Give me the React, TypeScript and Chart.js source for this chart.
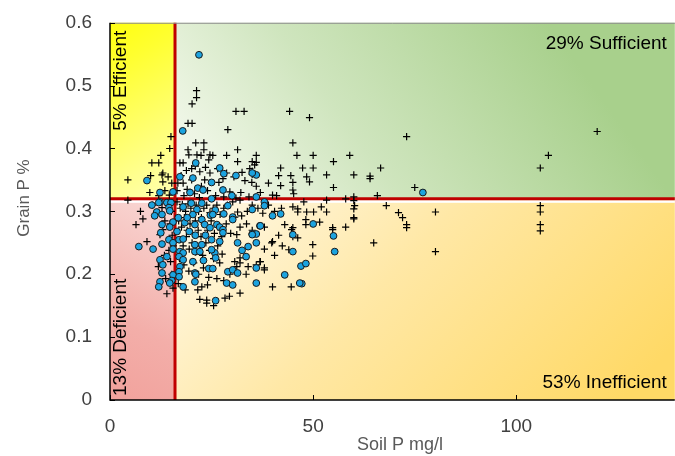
import React, { useEffect, useRef } from 'react';
import { Chart, registerables } from 'chart.js';

Chart.register(...registerables);

// ---- thresholds, axes, labels ----
const X_THRESHOLD = 16;
const Y_THRESHOLD = 0.32;
const xLimits = [0, 139];
const yLimits = [0, 0.6];
const xTickValues = [0, 50, 100];
const yTickValues = [0, 0.1, 0.2, 0.3, 0.4, 0.5, 0.6];
const xTitle = 'Soil P mg/l';
const yTitle = 'Grain P %';
const labelSufficient = '29% Sufficient';
const labelInefficient = '53% Inefficient';
const labelEfficient = '5% Efficient';
const labelDeficient = '13% Deficient';

// ---- series: [Soil P mg/l, Grain P %] ----
const otherSites: [number, number][] = [
  [21.3,0.492],[21.3,0.481],[20.2,0.471],[31.0,0.459],[33.0,0.459],[44.2,0.459],[49.1,0.449],[19.2,0.440],[20.2,0.440],[29.0,0.430],
  [15.0,0.419],[73.0,0.419],[21.1,0.409],[23.1,0.409],[45.0,0.409],[14.7,0.400],[19.2,0.398],[23.1,0.398],[31.4,0.398],[12.5,0.389],
  [19.4,0.390],[21.4,0.390],[22.4,0.389],[24.6,0.390],[25.3,0.389],[28.7,0.389],[36.0,0.389],[46.0,0.389],[50.0,0.389],[59.0,0.389],
  [107.9,0.389],[10.3,0.377],[12.0,0.377],[17.2,0.377],[18.0,0.377],[24.3,0.382],[31.4,0.379],[35.0,0.379],[36.0,0.378],[55.0,0.379],
  [35.6,0.374],[42.0,0.369],[47.4,0.369],[50.0,0.369],[66.6,0.369],[105.9,0.369],[119.9,0.427],[20.1,0.368],[34.4,0.368],[13.0,0.361],
  [12.8,0.358],[22.1,0.363],[24.6,0.361],[28.7,0.361],[35.0,0.364],[35.0,0.359],[10.0,0.357],[14.3,0.355],[53.3,0.358],[60.0,0.358],
  [64.0,0.356],[64.0,0.352],[48.4,0.355],[49.1,0.347],[4.4,0.350],[20.1,0.350],[23.3,0.350],[33.2,0.349],[13.0,0.347],[15.2,0.345],
  [16.7,0.345],[18.0,0.345],[26.8,0.346],[34.9,0.346],[45.0,0.346],[36.0,0.340],[42.0,0.341],[55.0,0.338],[75.0,0.338],[29.5,0.331],
  [32.2,0.330],[45.0,0.334],[45.2,0.328],[34.2,0.323],[40.0,0.326],[41.0,0.325],[58.0,0.320],[60.0,0.323],[65.8,0.325],[19.0,0.335],
  [20.8,0.328],[22.5,0.340],[24.0,0.333],[26.0,0.325],[17.5,0.357],[18.8,0.365],[21.0,0.372],[23.5,0.370],[26.5,0.368],[27.8,0.352],
  [30.5,0.355],[32.5,0.362],[16.5,0.333],[13.5,0.333],[9.8,0.330],[12.0,0.325],[14.6,0.326],[18.2,0.325],[22.0,0.322],[28.0,0.323],
  [31.0,0.321],[37.0,0.330],[39.0,0.345],[41.5,0.357],[44.5,0.357],
  [4.4,0.318],[6.4,0.279],[9.1,0.252],[8.1,0.288],[12.3,0.263],[13.0,0.271],[7.5,0.300],[10.5,0.310],[11.5,0.297],[12.8,0.306],
  [13.5,0.285],[14.2,0.312],[15.1,0.300],[14.8,0.280],[15.3,0.262],[15.6,0.245],[14.5,0.238],[13.4,0.230],[14.9,0.220],[11.9,0.212],
  [15.2,0.200],[13.7,0.193],[15.5,0.178],[14.0,0.169],
  [16.5,0.315],[17.3,0.305],[17.8,0.311],[18.6,0.300],[19.2,0.312],[19.9,0.305],[20.4,0.295],[21.2,0.310],[21.8,0.300],[22.5,0.290],
  [23.1,0.305],[23.8,0.310],[24.6,0.298],[25.4,0.305],[26.3,0.310],[27.1,0.295],[28.0,0.305],[28.9,0.310],[30.2,0.315],[31.4,0.299],
  [32.4,0.293],[30.7,0.291],[32.0,0.318],[33.8,0.300],[35.0,0.310],[36.4,0.305],[37.6,0.297],[39.0,0.310],[40.5,0.300],[42.2,0.305],
  [45.0,0.307],[46.2,0.304],[46.2,0.299],[48.4,0.299],[50.1,0.299],[52.0,0.307],[53.3,0.299],[47.7,0.315],[53.3,0.318],[60.0,0.317],
  [60.2,0.309],[60.0,0.304],[60.0,0.290],[60.0,0.288],[58.0,0.275],[54.8,0.274],[54.8,0.271],[48.2,0.287],[48.2,0.279],[51.6,0.283],
  [49.9,0.247],[49.9,0.229],[45.0,0.274],[45.0,0.260],[46.2,0.258],[43.0,0.279],[44.7,0.271],[39.8,0.250],[40.0,0.252],[44.0,0.239],
  [37.0,0.220],[36.0,0.215],[38.0,0.210],[64.9,0.250],[68.0,0.309],[71.0,0.298],[72.0,0.290],[73.0,0.279],[73.0,0.274],[80.1,0.299],
  [80.1,0.236],[105.9,0.309],[105.9,0.299],[105.9,0.279],[105.9,0.269],
  [16.9,0.285],[17.6,0.275],[18.3,0.290],[19.0,0.270],[19.7,0.280],[20.3,0.265],[21.0,0.285],[21.7,0.270],[22.4,0.260],[23.2,0.280],
  [24.0,0.270],[24.9,0.285],[25.7,0.265],[26.6,0.275],[27.5,0.260],[28.6,0.280],[29.7,0.265],[31.2,0.263],[32.0,0.275],[33.6,0.280],
  [35.0,0.270],[38.0,0.275],[41.5,0.262],
  [17.2,0.255],[18.0,0.245],[18.8,0.260],[19.5,0.240],[20.2,0.250],[21.1,0.235],[22.0,0.245],[22.8,0.230],[23.6,0.250],[24.5,0.238],
  [25.5,0.225],[26.5,0.245],[27.6,0.232],[27.0,0.218],[30.7,0.220],[32.0,0.226],[32.0,0.218],[34.0,0.212],[36.9,0.220],[38.0,0.240],
  [40.5,0.230],[42.4,0.245],
  [17.1,0.225],[18.2,0.215],[19.4,0.205],[20.6,0.218],[21.8,0.200],[23.0,0.210],[24.3,0.195],[26.3,0.193],[28.0,0.190],[29.5,0.200],
  [31.2,0.212],[33.5,0.200],[38.0,0.207],[40.0,0.180],[44.6,0.180],
  [16.8,0.185],[18.5,0.175],[21.6,0.175],[22.6,0.180],[24.0,0.183],[23.8,0.159],[23.8,0.154],[28.3,0.162],[29.4,0.165],[32.0,0.170],
  [25.5,0.150],[22.1,0.160],
];

const highlightedSites: [number, number][] = [
  [21.9,0.549],[17.9,0.428],[9.1,0.349],[21.1,0.377],[27.0,0.369],[28.0,0.360],[31.0,0.357],[36.0,0.358],[35.0,0.361],[17.2,0.355],
  [20.4,0.353],[25.0,0.346],[12.3,0.330],[15.5,0.331],[19.7,0.330],[21.6,0.337],[22.9,0.334],[27.8,0.334],[30.0,0.325],[36.0,0.323],
  [25.0,0.320],[77.0,0.330],
  [12.3,0.315],[14.0,0.314],[10.3,0.310],[12.0,0.314],[15.0,0.314],[14.5,0.306],[14.7,0.301],[11.5,0.299],[12.8,0.295],[11.0,0.293],
  [18.0,0.307],[20.0,0.313],[21.4,0.303],[22.6,0.313],[20.4,0.295],[22.6,0.287],[25.9,0.302],[24.7,0.294],[15.5,0.283],[12.8,0.279],
  [14.7,0.275],[18.4,0.282],[20.9,0.279],[23.3,0.279],[26.3,0.279],[12.5,0.266],
  [38.0,0.315],[38.0,0.309],[29.0,0.309],[35.0,0.303],[25.3,0.295],[28.0,0.296],[30.2,0.291],[30.2,0.287],[40.0,0.293],[42.0,0.296],
  [36.9,0.277],[27.0,0.275],[37.0,0.277],[45.0,0.263],[50.0,0.280],[55.0,0.261],[45.0,0.236],[55.3,0.236],[47.0,0.213],[48.2,0.217],
  [47.2,0.185],[35.0,0.264],[36.0,0.264],[36.0,0.250],
  [7.1,0.244],[10.6,0.240],[12.8,0.248],[14.5,0.255],[15.5,0.250],[17.0,0.255],[18.0,0.256],[15.5,0.240],[17.2,0.236],[18.0,0.234],
  [17.0,0.228],[20.9,0.247],[22.6,0.247],[20.9,0.236],[22.1,0.236],[25.0,0.255],[24.6,0.274],[25.8,0.234],[14.0,0.228],[12.3,0.223],
  [13.0,0.215],[12.8,0.202],[12.3,0.188],[15.5,0.199],[15.2,0.190],[17.2,0.212],[17.0,0.204],[17.0,0.196],[18.0,0.223],[20.4,0.220],
  [20.9,0.202],[20.9,0.188],[24.3,0.209],[25.3,0.209],[26.0,0.158],[12.0,0.180],[14.7,0.186],[18.0,0.180],
  [27.8,0.271],[27.8,0.266],[35.0,0.263],[31.4,0.250],[34.0,0.244],[25.0,0.239],[26.0,0.226],[29.0,0.204],[30.2,0.207],[31.4,0.202],
  [43.0,0.199],[28.7,0.186],[30.2,0.183],[36.0,0.186],[46.7,0.186],[36.0,0.210],[21.1,0.200],[19.5,0.268],[19.0,0.290],[21.0,0.262],
  [23.5,0.262],[27.0,0.252],[32.5,0.238],[33.5,0.228],[23.0,0.222],[16.5,0.268],[16.8,0.290],
];

const FONT = '"Liberation Sans", Arial, sans-serif';
const CANVAS_W = 680;
const CANVAS_H = 456;

const quadrantPlugin = {
  id: 'quadrants',
  beforeDatasetsDraw(chart: any) {
    const { ctx, chartArea, scales } = chart;
    const { left, right, top, bottom } = chartArea;
    const cx = scales.x.getPixelForValue(X_THRESHOLD);
    const cy = scales.y.getPixelForValue(Y_THRESHOLD);
    ctx.save();
    const fillGrad = (x0: number, y0: number, x1: number, y1: number, gx1: number, gy1: number, stops: [number, string][]) => {
      const g = ctx.createLinearGradient(cx, cy, gx1, gy1);
      stops.forEach(([o, c]) => g.addColorStop(o, c));
      ctx.fillStyle = g;
      ctx.fillRect(x0, y0, x1 - x0, y1 - y0);
    };
    fillGrad(left, top, cx, cy, left - 40, top, [[0, '#FFFFB4'], [0.7, '#FFFF30'], [1, '#FFFF00']]);
    fillGrad(cx, top, right, cy, cx + 330, top - 60, [[0, '#FAFCF4'], [0.45, '#CFE5BE'], [1, '#A8D08C']]);
    fillGrad(left, cy, cx, bottom, left - 30, bottom, [[0, '#F9D9D6'], [0.6, '#F3AEA9'], [1, '#F1A09A']]);
    fillGrad(cx, cy, right, bottom, cx + 330, bottom + 120, [[0, '#FFFAEC'], [0.45, '#FFE8A6'], [1, '#FFD966']]);

    ctx.fillStyle = '#FFFFFF';
    ctx.fillRect(left, cy + 1.5, right - left, 2.5);

    ctx.strokeStyle = '#C00000';
    ctx.lineWidth = 3;
    ctx.beginPath();
    ctx.moveTo(cx, top);
    ctx.lineTo(cx, bottom);
    ctx.moveTo(left, cy);
    ctx.lineTo(right, cy);
    ctx.stroke();

    ctx.fillStyle = '#000';
    ctx.font = `19px ${FONT}`;
    ctx.textBaseline = 'middle';
    ctx.textAlign = 'right';
    ctx.fillText(labelSufficient, right - 8, top + 21);
    ctx.fillText(labelInefficient, right - 8, bottom - 17);
    ctx.save();
    ctx.translate(left + 11, top + 8);
    ctx.rotate(-Math.PI / 2);
    ctx.textAlign = 'right';
    ctx.fillText(labelEfficient, 0, 0);
    ctx.restore();
    ctx.save();
    ctx.translate(left + 11, bottom - 4);
    ctx.rotate(-Math.PI / 2);
    ctx.textAlign = 'left';
    ctx.fillText(labelDeficient, 0, 0);
    ctx.restore();
    ctx.restore();
  },
  afterDatasetsDraw(chart: any) {
    const { ctx, chartArea, scales } = chart;
    const { left, right, top, bottom } = chartArea;
    ctx.save();
    ctx.strokeStyle = '#8C8C8C';
    ctx.lineWidth = 1;
    ctx.beginPath();
    ctx.moveTo(left, top + 0.5);
    ctx.lineTo(right, top + 0.5);
    ctx.stroke();
    ctx.strokeStyle = '#000';
    ctx.lineWidth = 1.5;
    ctx.beginPath();
    ctx.moveTo(left, top);
    ctx.lineTo(left, bottom);
    ctx.lineTo(right, bottom);
    ctx.stroke();
    ctx.lineWidth = 1;
    ctx.beginPath();
    yTickValues.forEach((v) => {
      const py = Math.round(scales.y.getPixelForValue(v)) + 0.5;
      ctx.moveTo(left, py);
      ctx.lineTo(left + 5, py);
    });
    xTickValues.forEach((v) => {
      const px = Math.round(scales.x.getPixelForValue(v)) + 0.5;
      ctx.moveTo(px, bottom);
      ctx.lineTo(px, bottom - 5);
    });
    ctx.stroke();
    ctx.fillStyle = '#595959';
    ctx.font = `18px ${FONT}`;
    ctx.textAlign = 'center';
    ctx.textBaseline = 'middle';
    ctx.fillText(xTitle, 400, 445);
    ctx.font = `17px ${FONT}`;
    ctx.save();
    ctx.translate(24, 198);
    ctx.rotate(-Math.PI / 2);
    ctx.fillText(yTitle, 0, 0);
    ctx.restore();
    ctx.restore();
  },
};

export default function App() {
  const canvasRef = useRef<HTMLCanvasElement | null>(null);

  useEffect(() => {
    const canvas = canvasRef.current;
    if (!canvas) return;
    const chart = new Chart(canvas, {
      type: 'scatter',
      data: {
        datasets: [
          {
            label: 'Highlighted',
            data: highlightedSites.map(([x, y]) => ({ x, y })),
            pointStyle: 'circle',
            pointRadius: 3.4,
            pointBackgroundColor: '#1CA3DF',
            pointBorderColor: '#1A1A1A',
            pointBorderWidth: 1,
            order: 0,
          },
          {
            label: 'Other',
            data: otherSites.map(([x, y]) => ({ x, y })),
            pointStyle: 'cross',
            pointRadius: 3.6,
            pointBorderColor: '#000',
            pointBackgroundColor: '#000',
            pointBorderWidth: 1.2,
            order: 1,
          },
        ],
      },
      options: {
        responsive: false,
        animation: false,
        devicePixelRatio: 1,
        layout: { padding: { top: 18, right: 0, left: 0, bottom: 0 } },
        plugins: { legend: { display: false }, tooltip: { enabled: false } },
        events: [],
        scales: {
          x: {
            type: 'linear',
            min: xLimits[0],
            max: xLimits[1],
            afterBuildTicks: (s: any) => { s.ticks = xTickValues.map((v) => ({ value: v })); },
            afterFit: (s: any) => { s.height = 56; },
            grid: { display: false, drawTicks: false },
            border: { display: false },
            ticks: {
              color: '#404040',
              font: { size: 19, family: FONT },
              padding: 15,
              maxRotation: 0,
              autoSkip: false,
              callback: (v: any) => String(Number(Number(v).toFixed(1))),
            },
          },
          y: {
            type: 'linear',
            min: yLimits[0],
            max: yLimits[1],
            afterBuildTicks: (s: any) => { s.ticks = yTickValues.map((v) => ({ value: v })); },
            afterFit: (s: any) => { s.width = 110; },
            grid: { display: false, drawTicks: false },
            border: { display: false },
            ticks: {
              color: '#404040',
              font: { size: 19, family: FONT, lineHeight: 0.5 },
              padding: 18,
              autoSkip: false,
              callback: (v: any) => String(Number(Number(v).toFixed(1))),
            },
          },
        },
      },
      plugins: [quadrantPlugin],
    });
    return () => chart.destroy();
  }, []);

  return (
    <div style={{ position: 'fixed', left: 0, top: 0, width: 675, height: CANVAS_H, overflow: 'hidden', background: '#fff' }}>
      <canvas ref={canvasRef} width={CANVAS_W} height={CANVAS_H} style={{ width: CANVAS_W, height: CANVAS_H, display: 'block' }} />
    </div>
  );
}
